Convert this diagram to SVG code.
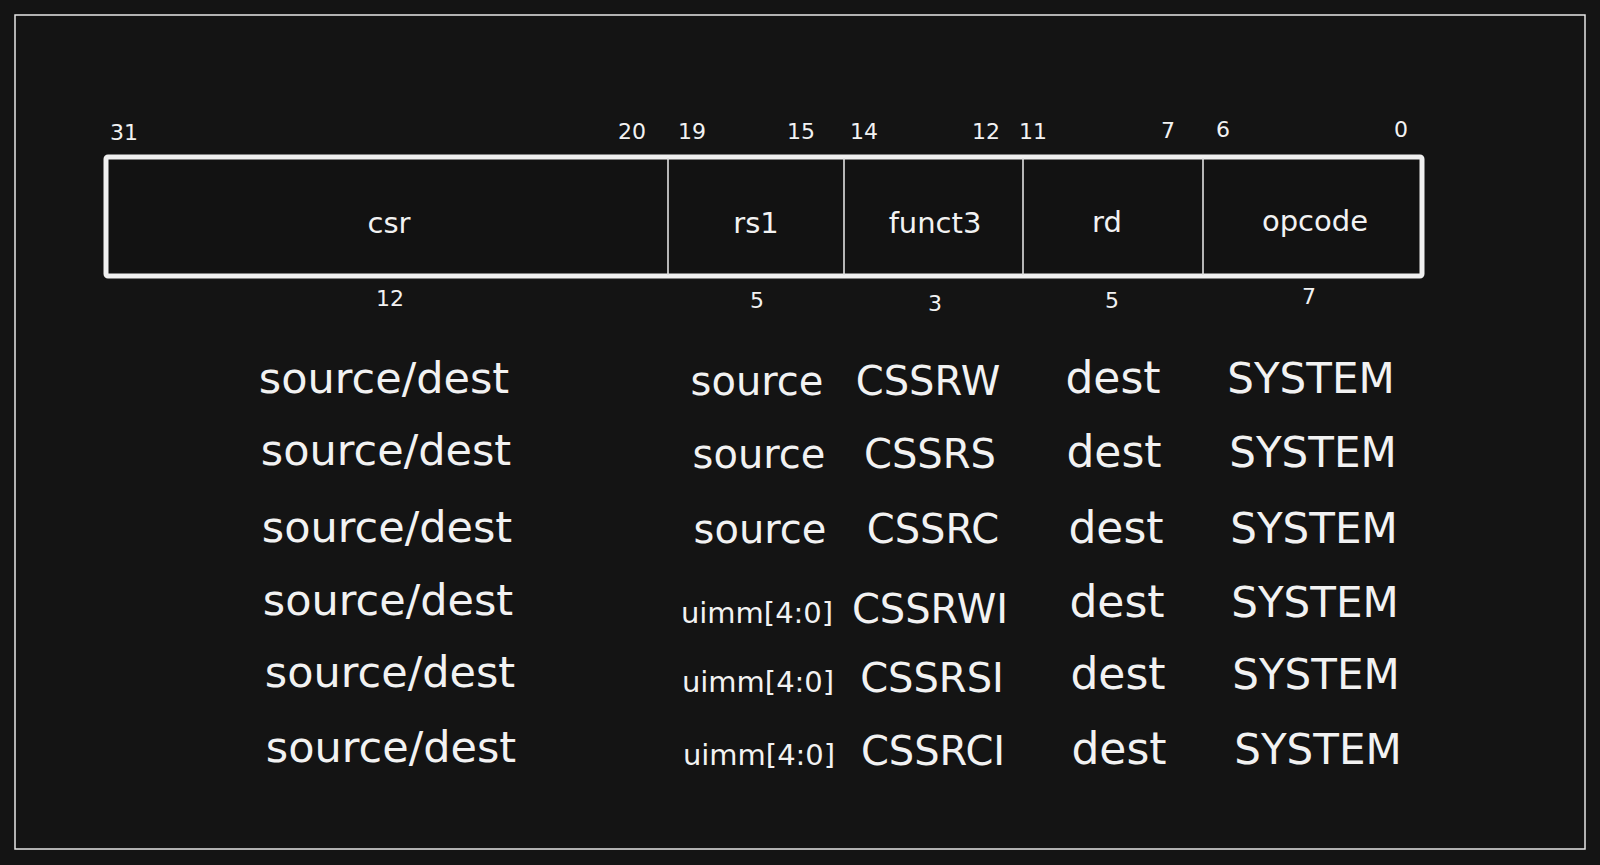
<svg xmlns="http://www.w3.org/2000/svg" width="1600" height="865" viewBox="0 0 1600 865">
<style>
text{font-family:"DejaVu Sans","Liberation Sans",sans-serif;fill:#f2f2f2;text-anchor:middle}
.bit{font-size:22px}
.fld{font-size:29px}
.row{font-size:40px}
.sd{font-size:43px}
.dst{font-size:44px}
.sys{font-size:42px}
.imm{font-size:29px}
.frame{fill:none;stroke:#e6e6e6;stroke-width:1.5}
.box{fill:#121212;stroke:#f0f0f0;stroke-width:5;stroke-linejoin:round}
.div{stroke:#e0e0e0;stroke-width:1.6}
</style>
<rect x="0" y="0" width="1600" height="865" fill="#141414"/>
<rect class="frame" x="15" y="15" width="1570" height="834" fill="#121212"/>
<g id="format">
<rect class="box" x="106" y="157" width="1316" height="119" rx="2"/>
</g>
<g id="connectors">
<line class="div" x1="668" y1="158" x2="668" y2="275"/>
<line class="div" x1="844" y1="158" x2="844" y2="275"/>
<line class="div" x1="1023" y1="158" x2="1023" y2="275"/>
<line class="div" x1="1203" y1="158" x2="1203" y2="275"/>
</g>
<g id="field-csr">
<text class="bit" x="124" y="140">31</text>
<text class="bit" x="632" y="139">20</text>
<text class="fld" x="389" y="233">csr</text>
<text class="bit" x="390" y="306">12</text>
</g>
<g id="field-rs1">
<text class="bit" x="692" y="139">19</text>
<text class="bit" x="801" y="139">15</text>
<text class="fld" x="756" y="233">rs1</text>
<text class="bit" x="757" y="308">5</text>
</g>
<g id="field-funct3">
<text class="bit" x="864" y="139">14</text>
<text class="bit" x="986" y="139">12</text>
<text class="fld" x="935" y="233">funct3</text>
<text class="bit" x="935" y="311">3</text>
</g>
<g id="field-rd">
<text class="bit" x="1033" y="139">11</text>
<text class="bit" x="1168" y="138">7</text>
<text class="fld" x="1107" y="232">rd</text>
<text class="bit" x="1112" y="308">5</text>
</g>
<g id="field-opcode">
<text class="bit" x="1223" y="137">6</text>
<text class="bit" x="1401" y="137">0</text>
<text class="fld" x="1315" y="231">opcode</text>
<text class="bit" x="1309" y="304">7</text>
</g>
<g id="row-csrrw">
<text class="sd" x="384" y="393">source/dest</text>
<text class="row" x="757" y="395">source</text>
<text class="row" x="928" y="395">CSSRW</text>
<text class="dst" x="1113" y="393">dest</text>
<text class="sys" x="1311" y="393">SYSTEM</text>
</g>
<g id="row-csrrs">
<text class="sd" x="386" y="465">source/dest</text>
<text class="row" x="759" y="468">source</text>
<text class="row" x="930" y="468">CSSRS</text>
<text class="dst" x="1114" y="467">dest</text>
<text class="sys" x="1313" y="467">SYSTEM</text>
</g>
<g id="row-csrrc">
<text class="sd" x="387" y="542">source/dest</text>
<text class="row" x="760" y="543">source</text>
<text class="row" x="933" y="543">CSSRC</text>
<text class="dst" x="1116" y="543">dest</text>
<text class="sys" x="1314" y="543">SYSTEM</text>
</g>
<g id="row-csrrwi">
<text class="sd" x="388" y="615">source/dest</text>
<text class="imm" x="757" y="623">uimm[4:0]</text>
<text class="row" x="930" y="623">CSSRWI</text>
<text class="dst" x="1117" y="617">dest</text>
<text class="sys" x="1315" y="617">SYSTEM</text>
</g>
<g id="row-csrrsi">
<text class="sd" x="390" y="687">source/dest</text>
<text class="imm" x="758" y="692">uimm[4:0]</text>
<text class="row" x="932" y="692">CSSRSI</text>
<text class="dst" x="1118" y="689">dest</text>
<text class="sys" x="1316" y="689">SYSTEM</text>
</g>
<g id="row-csrrci">
<text class="sd" x="391" y="762">source/dest</text>
<text class="imm" x="759" y="765">uimm[4:0]</text>
<text class="row" x="933" y="765">CSSRCI</text>
<text class="dst" x="1119" y="764">dest</text>
<text class="sys" x="1318" y="764">SYSTEM</text>
</g>
</svg>
